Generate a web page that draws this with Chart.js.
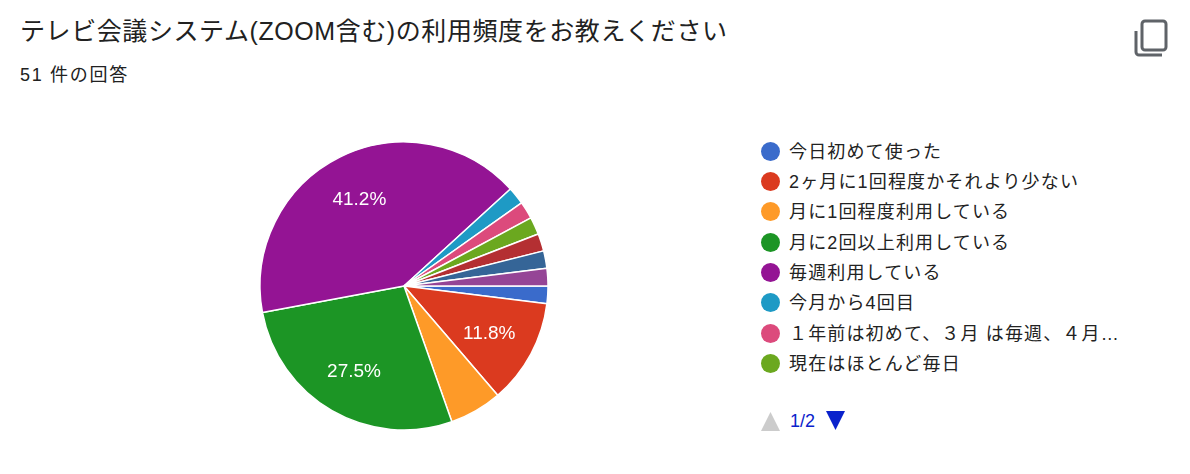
<!DOCTYPE html>
<html lang="ja">
<head>
<meta charset="utf-8">
<title>利用頻度</title>
<script src="https://cdn.jsdelivr.net/npm/chart.js@4"></script>
<style>
  html, body { margin: 0; padding: 0; background: #fff; }
  body { width: 1190px; height: 474px; position: relative; overflow: hidden;
    font-family: "Liberation Sans", "Noto Sans CJK JP", sans-serif; color: #212121; }
  #title { position: absolute; left: 20px; top: 13px; font-size: 25px; line-height: 36px; letter-spacing: 0.58px; white-space: nowrap; }
  #count { position: absolute; left: 20px; top: 63px; font-size: 18px; line-height: 24px; letter-spacing: 1.7px; white-space: nowrap; }
  #copy { position: absolute; left: 1133px; top: 17px; }
  #pie { position: absolute; left: 249px; top: 131px; }
  #legend { position: absolute; left: 761px; top: 136.5px; margin: 0; padding: 0; list-style: none; }
  #legend li { height: 30.4px; line-height: 30.4px; font-size: 18px; letter-spacing: 1.15px; white-space: nowrap; position: relative; padding-left: 28px; color: #222; }
  #legend i { position: absolute; left: 0; top: 5px; width: 19px; height: 19px; border-radius: 50%; }
  #pager { position: absolute; left: 761px; top: 409px; height: 24px; }
  #pager svg { position: absolute; top: 2px; }
  #pager span { position: absolute; left: 29px; top: 0; font-size: 18px; line-height: 24px; color: #0a22cc; }
</style>
</head>
<body>
<div id="title">テレビ会議システム(ZOOM含む)の利用頻度をお教えください</div>
<div id="count">51 件の回答</div>
<svg id="copy" width="38" height="42" viewBox="0 0 38 42">
  <rect x="9" y="4" width="24" height="29" rx="3" fill="none" stroke="#5f6368" stroke-width="3"/>
  <path d="M3 14 V35 a3 3 0 0 0 3 3 H29" fill="none" stroke="#5f6368" stroke-width="3"/>
</svg>
<canvas id="pie" width="310" height="310"></canvas>
<ul id="legend"></ul>
<div id="pager">
  <svg width="19" height="20" style="left:0"><polygon points="9.5,1 19,20 0,20" fill="#ccc"/></svg>
  <span>1/2</span>
  <svg width="19" height="20" style="left:65px"><polygon points="0,0 19,0 9.5,19" fill="#0a22cc"/></svg>
</div>
<script>
// only the first legend page is visible, the last three categories have no readable name
const labels = [
  '今日初めて使った',
  '2ヶ月に1回程度かそれより少ない',
  '月に1回程度利用している',
  '月に2回以上利用している',
  '毎週利用している',
  '今月から4回目',
  '１年前は初めて、３月 は毎週、４月…',
  '現在はほとんど毎日',
];
const responses = [1, 6, 3, 14, 21, 1, 1, 1, 1, 1, 1];
const colors = ['#3a6bcb', '#db3a1f', '#fe9a28', '#1c9525', '#941494', '#1e9ac5', '#dc4a7c', '#6ba81f', '#b42f32', '#356597', '#954596'];

// Percent labels inside the big slices
const sliceLabels = {
  id: 'sliceLabels',
  afterDatasetsDraw(chart) {
    const ctx = chart.ctx;
    const total = responses.reduce((sum, v) => sum + v, 0);
    ctx.save();
    ctx.fillStyle = '#fff';
    ctx.font = '19px "Liberation Sans", sans-serif';
    ctx.textAlign = 'center';
    ctx.textBaseline = 'middle';
    chart.getDatasetMeta(0).data.forEach((arc, i) => {
      const share = responses[i] / total;
      if (share < 0.1) return;
      const mid = (arc.startAngle + arc.endAngle) / 2;
      const dist = arc.outerRadius * 0.68;
      ctx.fillText((share * 100).toFixed(1) + '%', arc.x + Math.cos(mid) * dist - 1, arc.y + Math.sin(mid) * dist + 1);
    });
    ctx.restore();
  },
};

new Chart(document.getElementById('pie'), {
  type: 'pie',
  data: {
    labels: labels,
    datasets: [{
      data: responses,
      backgroundColor: colors,
      borderColor: '#fff',
      borderWidth: 1.5,
      radius: 144,
    }],
  },
  options: {
    responsive: false,
    animation: false,
    rotation: 90,
    plugins: { legend: { display: false }, tooltip: { enabled: false } },
  },
  plugins: [sliceLabels],
});

// Legend, first page only
const legendEl = document.getElementById('legend');
labels.forEach((label, i) => {
  const li = document.createElement('li');
  const dot = document.createElement('i');
  dot.style.background = colors[i];
  li.appendChild(dot);
  li.appendChild(document.createTextNode(label));
  legendEl.appendChild(li);
});
</script>
</body>
</html>
